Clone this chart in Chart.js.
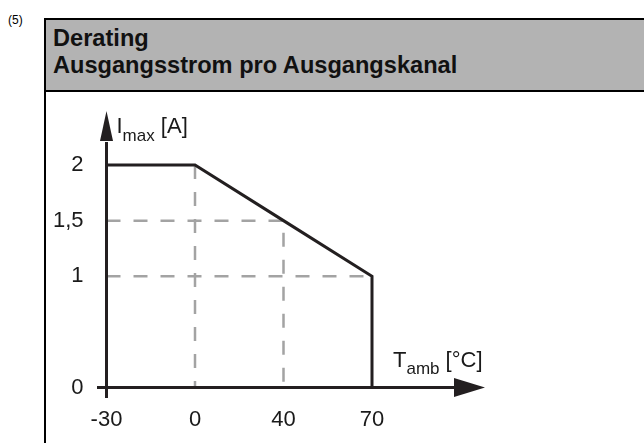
<!DOCTYPE html>
<html>
<head>
<meta charset="utf-8">
<script src="https://cdn.jsdelivr.net/npm/chart.js@4/dist/chart.umd.min.js"></script>
<style>
  html, body { margin:0; padding:0; }
  body { width:644px; height:443px; overflow:hidden; position:relative; background:#fff;
         font-family:'Liberation Sans', Arial, sans-serif; }
  #num { position:absolute; left:8px; top:14px; font-size:12px; line-height:12px; color:#000; }
  #box { position:absolute; left:44px; top:18px; width:720px; height:520px; border:2px solid #000; box-sizing:border-box; }
  #head { position:absolute; left:46px; top:20px; width:700px; height:70px; background:#b3b3b3; border-bottom:2px solid #000; }
  #head div { position:absolute; left:7px; font-weight:bold; font-size:23.6px; line-height:27px; color:#111; white-space:nowrap; }
  #c { position:absolute; left:0; top:0; z-index:2; }
</style>
</head>
<body>
<div id="num">(5)</div>
<div id="box"></div>
<div id="head">
  <div style="top:5.2px">Derating<br>Ausgangsstrom pro Ausgangskanal</div>
</div>
<canvas id="c" width="644" height="443"></canvas>
<script>
// ---- data ----
const categories   = ['-30', '0', '40', '70'];
const curveT       = ['-30', '0', '40', '70', '70'];
const curveI       = [2, 2, 1.5, 1, 0];
const guideAT      = ['0', '0'];
const guideAI      = [2, 0];
const guideBT      = ['-30', '40', '40'];
const guideBI      = [1.5, 1.5, 0];
const guideCT      = ['-30', '70'];
const guideCI      = [1, 1];
const yTickValues  = [0, 1, 1.5, 2];
const yTickLabels  = ['0', '1', '1,5', '2'];
const yTitle       = ['I', 'max', ' [A]'];
const xTitle       = ['T', 'amb', ' [°C]'];

const pts = (xs, ys) => xs.map((x, i) => ({ x: x, y: ys[i] }));

const FONT = "'Liberation Sans', Arial, sans-serif";
const INK = '#231f20';
const GUIDE = '#a3a3a3';

const guideStyle = {
  borderColor: GUIDE, borderWidth: 2.5, borderDash: [14, 13],
  pointRadius: 0, fill: false, tension: 0, clip: false
};

const axesPlugin = {
  id: 'arrowAxes',
  afterDatasetsDraw(chart) {
    const { ctx, scales } = chart;
    const xs = scales.x, ys = scales.y;
    const x0 = xs.getPixelForValue(0);
    const y0 = ys.getPixelForValue(0);
    const yTop = ys.getPixelForValue(2);
    const xRight = xs.getPixelForValue(categories.length - 1);
    ctx.save();
    ctx.strokeStyle = INK; ctx.fillStyle = INK; ctx.lineWidth = 3; ctx.lineCap = 'butt';
    // y axis
    const yTip = yTop - 54, yBase = yTip + 30;
    ctx.beginPath(); ctx.moveTo(x0, y0 + 10.5); ctx.lineTo(x0, yBase + 1); ctx.stroke();
    ctx.beginPath(); ctx.moveTo(x0, yTip); ctx.lineTo(x0 + 6.5, yBase); ctx.lineTo(x0 - 6.5, yBase); ctx.closePath(); ctx.fill();
    // x axis
    const xTip = xRight + 113, xBase = xTip - 31;
    ctx.beginPath(); ctx.moveTo(x0 - 9.5, y0); ctx.lineTo(xBase + 1, y0); ctx.stroke();
    ctx.beginPath(); ctx.moveTo(xTip, y0); ctx.lineTo(xBase, y0 - 9.5); ctx.lineTo(xBase, y0 + 9.5); ctx.closePath(); ctx.fill();

    // axis titles
    ctx.textBaseline = 'alphabetic'; ctx.textAlign = 'left'; ctx.fillStyle = '#1a1a1a';
    // y title
    let tx = x0 + 10, tb = yTip + 22;
    ctx.font = '22px ' + FONT; ctx.fillText(yTitle[0], tx, tb); tx += ctx.measureText(yTitle[0]).width;
    ctx.font = '17px ' + FONT; ctx.fillText(yTitle[1], tx, tb + 8); tx += ctx.measureText(yTitle[1]).width;
    ctx.font = '22px ' + FONT; ctx.fillText(yTitle[2], tx, tb);
    // x title
    tx = xRight + 21; tb = y0 - 21;
    ctx.font = '22px ' + FONT; ctx.fillText(xTitle[0], tx, tb); tx += ctx.measureText(xTitle[0]).width;
    ctx.font = '17px ' + FONT; ctx.fillText(xTitle[1], tx, tb + 7); tx += ctx.measureText(xTitle[1]).width;
    ctx.font = '22px ' + FONT; ctx.fillText(xTitle[2], tx, tb);
    ctx.restore();
  }
};

new Chart(document.getElementById('c'), {
  type: 'line',
  data: {
    labels: categories,
    datasets: [
      { data: pts(curveT, curveI), borderColor: INK, borderWidth: 3, pointRadius: 0,
        fill: false, tension: 0, clip: false, borderJoinStyle: 'miter' },
      Object.assign({ data: pts(guideAT, guideAI) }, guideStyle),
      Object.assign({ data: pts(guideBT, guideBI) }, guideStyle),
      Object.assign({ data: pts(guideCT, guideCI) }, guideStyle)
    ]
  },
  options: {
    responsive: false,
    devicePixelRatio: 1,
    animation: false,
    events: [],
    layout: { padding: { left: 0, top: 165, right: 272, bottom: 5 } },
    plugins: { legend: { display: false }, tooltip: { enabled: false }, title: { display: false } },
    scales: {
      x: {
        type: 'category',
        offset: false,
        grid: { display: false, drawTicks: false },
        border: { display: false },
        ticks: { color: '#1a1a1a', font: { family: FONT, size: 22 }, padding: 19, maxRotation: 0, autoSkip: false },
        afterFit(scale) { scale.height = 50.5; }
      },
      y: {
        type: 'linear',
        min: 0, max: 2,
        grid: { display: false, drawTicks: false },
        border: { display: false },
        afterBuildTicks(scale) { scale.ticks = yTickValues.map(v => ({ value: v })); },
        ticks: {
          color: '#1a1a1a', font: { family: FONT, size: 22 }, padding: 23,
          callback: (v) => yTickLabels[yTickValues.indexOf(v)]
        },
        afterFit(scale) { scale.width = 106.5; }
      }
    }
  },
  plugins: [axesPlugin]
});
</script>
</body>
</html>
